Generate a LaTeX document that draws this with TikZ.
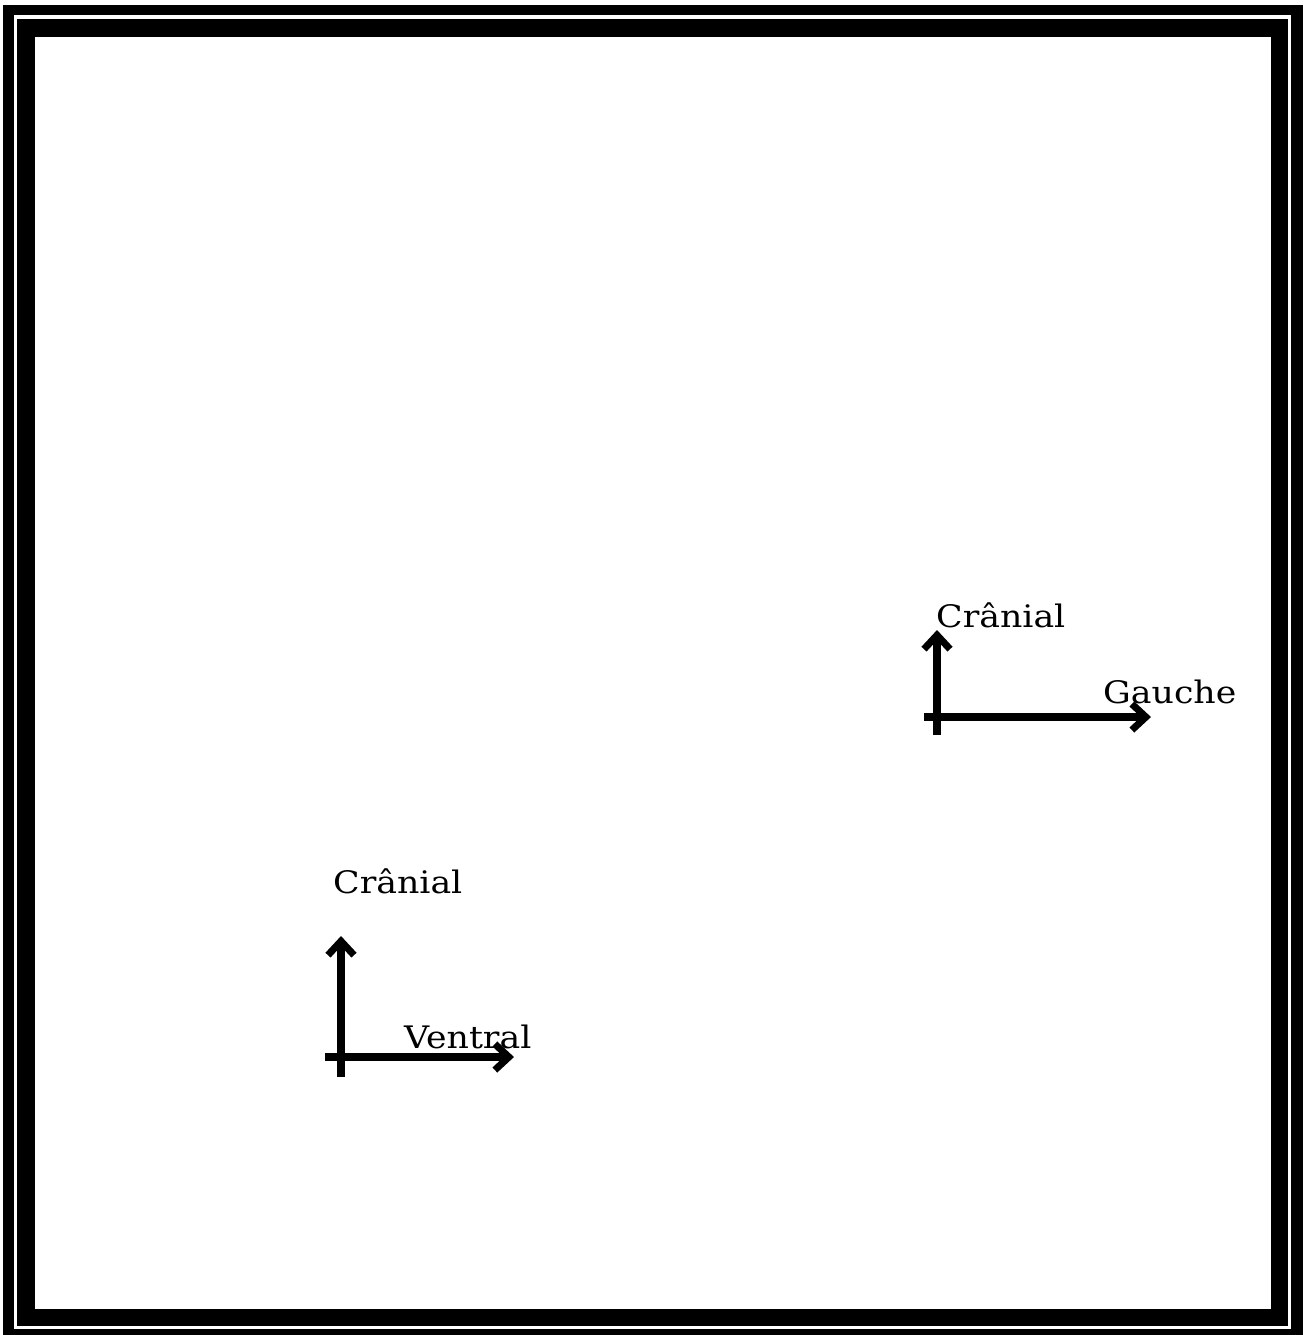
\documentclass[tikz,border=0pt]{standalone}
\usepackage{fontspec}
\setmainfont[FakeStretch=1.12]{DejaVu Serif}
\usetikzlibrary{arrows.meta}
\tikzset{
  axis/.style={line width=7.5pt,-{Straight Barb[length=14pt,width=26pt,line width=7pt]}},
  lbl/.style={anchor=base west,inner sep=0pt,font=\fontsize{31}{36}\selectfont}
}
\begin{document}
\begin{tikzpicture}[x=1pt,y=-1pt]
\useasboundingbox (0,0) rectangle (1306,1335);
% border
\fill[black] (3,5) rectangle (1303,1335);
\fill[white] (14,15) rectangle (1291,1329);
\fill[black] (17,19) rectangle (1288,1326);
\fill[white] (35,37) rectangle (1271,1309);
% right group
\coordinate (r0) at (937,735);
\coordinate (r1) at (937,630);
\coordinate (r2) at (924,717);
\coordinate (r3) at (1151,717);
\draw[axis] (r0) -- (r1);
\draw[axis] (r2) -- (r3);
\node[lbl] (rc) at (936,627) {Crânial};
\node[lbl] (rg) at (1103,703) {Gauche};
% left group
\coordinate (l0) at (341,1077);
\coordinate (l1) at (341,936);
\coordinate (l2) at (325,1057);
\coordinate (l3) at (514,1057);
\draw[axis] (l0) -- (l1);
\draw[axis] (l2) -- (l3);
\node[lbl] (lc) at (333,893) {Crânial};
\node[lbl] (lv) at (404,1048) {Ventral};
\end{tikzpicture}
\end{document}
